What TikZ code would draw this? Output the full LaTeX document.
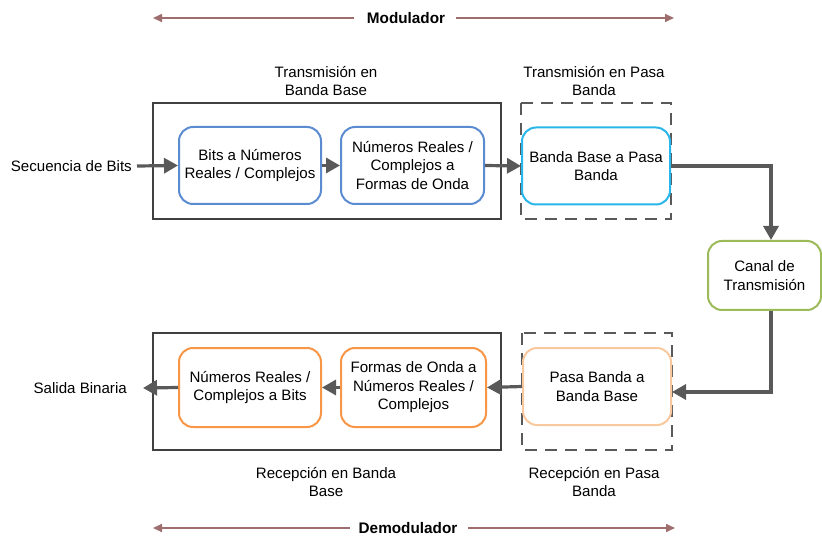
\documentclass[tikz,border=0pt]{standalone}
\usepackage{fontspec}
\setmainfont{Liberation Sans}
\usetikzlibrary{arrows.meta,calc}
\definecolor{framegray}{HTML}{404040}
\definecolor{arrgray}{HTML}{595959}
\definecolor{modbrown}{HTML}{9E6E6E}
\definecolor{bblue}{HTML}{5B8BD0}
\definecolor{bcyan}{HTML}{29B6EA}
\definecolor{bpeach}{HTML}{FAC89E}
\definecolor{borange}{HTML}{F79646}
\definecolor{bgreen}{HTML}{9BBB59}
\tikzset{
  txt/.style={font=\fontsize{15.1}{18.5}\selectfont, align=center, inner sep=0pt},
  boldtxt/.style={font=\fontsize{15.3}{18}\selectfont\bfseries, inner sep=0pt},
  blk/.style={txt, rounded corners=14pt, line width=2pt, fill=white},
  frame/.style={draw=framegray, line width=2pt},
  dframe/.style={draw=arrgray, line width=2pt, dash pattern=on 12pt off 8pt},
  flow/.style={draw=arrgray, line width=3.2pt, -{Triangle[length=14pt,width=15pt]}},
  span/.style={draw=modbrown, line width=1.6pt, -{Triangle[length=9pt,width=8pt]}}
}
\begin{document}
\begin{tikzpicture}[x=1pt,y=-1pt]
\useasboundingbox (0,0) rectangle (822,537);
% frames
\draw[frame] (153,103) rectangle (501,219);
\draw[dframe] (521,103) rectangle (671,219);
\draw[frame] (153,333) rectangle (501,450);
\draw[dframe] (522,333) rectangle (672,450);
% top span
\node[boldtxt] (mod) at (406,18) {Modulador};
\coordinate (modL) at (153,18);
\coordinate (modR) at (674,18);
\draw[span] ($(mod.west)+(-13,0)$) -- (modL);
\draw[span] ($(mod.east)+(11,0)$) -- (modR);
% bottom span
\node[boldtxt] (demod) at (408,528) {Demodulador};
\coordinate (demL) at (153,528);
\coordinate (demR) at (675,528);
\draw[span] ($(demod.west)+(-9,0)$) -- (demL);
\draw[span] ($(demod.east)+(10,0)$) -- (demR);
% labels
\node[txt] (lblTB) at (326,81) {Transmisión en\\Banda Base};
\node[txt] (lblTP) at (594,81) {Transmisión en Pasa\\Banda};
\node[txt] (lblRB) at (326,482) {Recepción en Banda\\Base};
\node[txt] (lblRP) at (594,482) {Recepción en Pasa\\Banda};
% blocks TX
\node[blk, draw=bblue, minimum width=142pt, minimum height=77pt] (b1) at (250,165.5) {Bits a Números\\Reales / Complejos};
\node[blk, draw=bblue, minimum width=143pt, minimum height=77pt] (b2) at (412.5,165.5) {Números Reales /\\Complejos a\\Formas de Onda};
\node[blk, draw=bcyan, minimum width=148pt, minimum height=77pt] (b3) at (596,166) {Banda Base a Pasa\\Banda};
% channel
\node[blk, draw=bgreen, minimum width=113pt, minimum height=69pt] (ch) at (764.5,275.5) {Canal de\\Transmisión};
% blocks RX
\node[blk, draw=bpeach, minimum width=148pt, minimum height=77pt] (b4) at (597,386.5) {Pasa Banda a\\Banda Base};
\node[blk, draw=borange, minimum width=145pt, minimum height=79pt] (b5) at (413.5,387.5) {Formas de Onda a\\Números Reales /\\Complejos};
\node[blk, draw=borange, minimum width=142pt, minimum height=79pt] (b6) at (250,387.5) {Números Reales /\\Complejos a Bits};
% io texts
\node[txt, anchor=east] (inp) at (132,166) {Secuencia de Bits};
\node[txt, anchor=east] (out) at (127,388) {Salida Binaria};
\coordinate (outTip) at (143,388);
% flows
\draw[flow] ($(inp.east)+(5,0)$) -- (b1.west);
\draw[flow] (b1.east) -- (b2.west);
\draw[flow] (b2.east) -- (b3.west);
\draw[flow] (b3.east) -| ($(ch.north)+(6.5,0)$);
\draw[flow] ($(ch.south)+(6.5,0)$) |- ($(b4.east)+(0,5.5)$);
\draw[flow] (b4.west) -- (b5.east);
\draw[flow] (b5.west) -- (b6.east);
\draw[flow] (b6.west) -- (outTip);
\end{tikzpicture}
\end{document}
